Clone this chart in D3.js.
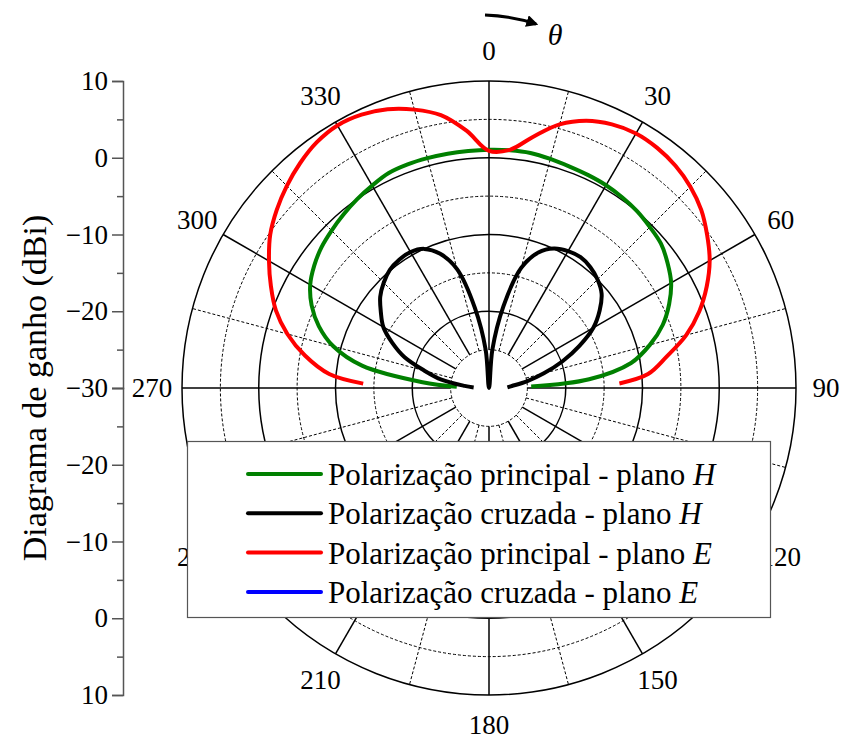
<!DOCTYPE html>
<html>
<head>
<meta charset="utf-8">
<script src="https://cdn.jsdelivr.net/npm/d3@7/dist/d3.min.js"></script>
<style>
  body { margin: 0; background: #fff; }
  svg text { font-family: "Liberation Serif", "Times New Roman", "DejaVu Serif", serif; }
</style>
</head>
<body>
<svg id="chart" width="842" height="740"></svg>
<script>
// angles in degrees, 0 = top, clockwise
const angles = [-88, -85, -80, -75, -70, -65, -60, -55, -50, -45, -40, -35, -30, -25, -20, -15, -10, -5, 0,
                5, 10, 15, 20, 25, 30, 35, 40, 45, 50, 55, 60, 65, 70, 75, 80, 85, 88];

const principalH = [-25.8, -21.3, -13.2, -9.0, -6.4, -4.5, -3.1, -2.2, -1.5, -1.0, -0.5, 0.0, 0.45, 0.9, 1.0, 1.0, 1.0, 1.0, 1.05,
                    1.1, 1.1, 0.9, 0.7, 0.6, 0.5, 0.3, 0.05, -0.35, -0.75, -1.6, -2.6, -4.1, -5.9, -8.3, -11.2, -16.9, -24.5];

const cruzadaH = [-28.0, -26.8, -23.7, -21.3, -18.3, -16.1, -14.1, -12.8, -11.5, -10.6, -9.9, -9.6, -9.55, -10.0, -11.4, -14.0, -19.4, -25.0, -30,
                  -25.0, -19.2, -13.8, -11.2, -9.95, -9.4, -9.2, -9.45, -10.0, -10.85, -12.4, -14.3, -17.0, -19.8, -22.6, -25.0, -27.0, -27.6];

const principalE = [-13.6, -9.1, -5.65, -2.8, -0.45, 1.35, 3.1, 4.8, 6.1, 7.25, 8.27, 9.1, 9.5, 9.3, 8.65, 7.55, 6.1, 3.65, 0.9,
                    1.15, 3.25, 5.55, 7.05, 7.9, 8.3, 8.2, 7.8, 7.1, 6.1, 4.7, 3.2, 1.3, -0.85, -3.4, -6.5, -9.2, -13.0];

const radialTicks = [-30, -25, -20, -15, -10, -5, 0, 5, 10];
const majorTicks = [-30, -20, -10, 0, 10];
const angleTicks = [0, 30, 60, 90, 120, 150, 180, 210, 240, 270, 300, 330];
const legendNames = ["Polarização principal - plano ", "Polarização cruzada - plano ",
                     "Polarização principal - plano ", "Polarização cruzada - plano "];
const legendPlanes = ["H", "H", "E", "E"];
const legendColors = ["#008000", "#000000", "#ff0000", "#0000ff"];

const FONT = '"Liberation Serif", "Times New Roman", "DejaVu Serif", serif';
const svg = d3.select('#chart');
const cx = 489, cy = 388, R = 307;

const r = d3.scaleLinear().domain([-30, 10]).range([0, R]).clamp(true);
const rad = d => d * Math.PI / 180;

const polar = svg.append('g').attr('transform', `translate(${cx},${cy})`);

// grid circles
polar.selectAll('.ring')
  .data(radialTicks.filter(t => t > -30))
  .enter().append('circle')
  .attr('r', d => r(d))
  .attr('fill', 'none')
  .attr('stroke', '#000')
  .attr('stroke-width', d => d % 10 === 0 ? 1.5 : 1)
  .attr('stroke-dasharray', d => d % 10 === 0 ? null : '3,2');

// spokes every 15 deg, solid on multiples of 30
const spokes = d3.range(0, 360, 15);
polar.selectAll('.spoke')
  .data(spokes)
  .enter().append('line')
  .attr('x1', d => r(-25) * Math.sin(rad(d)))
  .attr('y1', d => -r(-25) * Math.cos(rad(d)))
  .attr('x2', d => R * Math.sin(rad(d)))
  .attr('y2', d => -R * Math.cos(rad(d)))
  .attr('stroke', '#000')
  .attr('stroke-width', d => d % 30 === 0 ? 1.5 : 1)
  .attr('stroke-dasharray', d => d % 30 === 0 ? null : '3,2');

// angle labels
polar.selectAll('.alabel')
  .data(angleTicks)
  .enter().append('text')
  .attr('x', d => 337 * Math.sin(rad(d)))
  .attr('y', d => -337 * Math.cos(rad(d)))
  .attr('text-anchor', 'middle')
  .attr('dominant-baseline', 'central')
  .attr('font-family', FONT)
  .attr('font-size', 27)
  .attr('fill', '#000')
  .text(d => d);

// curves
const line = d3.lineRadial()
  .angle(d => rad(d[0]))
  .radius(d => r(d[1]))
  .curve(d3.curveCatmullRom.alpha(0.5));

const series = [
  { values: principalH, color: legendColors[0] },
  { values: cruzadaH, color: legendColors[1] },
  { values: principalE, color: legendColors[2] }
];

polar.selectAll('.curve')
  .data(series)
  .enter().append('path')
  .attr('d', s => line(angles.map((a, i) => [a, s.values[i]])))
  .attr('fill', 'none')
  .attr('stroke', s => s.color)
  .attr('stroke-width', 4)
  .attr('stroke-linejoin', 'round');

// radial axis on the left, mirrored about the centre
const yTop = d3.scaleLinear().domain([-30, 10]).range([cy, cy - R]);
const yBot = d3.scaleLinear().domain([-30, 10]).range([cy, cy + R]);
const axisX = 123;

[yTop, yBot].forEach((sc, k) => {
  const majors = k === 0 ? majorTicks : majorTicks.filter(t => t !== -30);
  const gMajor = svg.append('g')
    .attr('transform', `translate(${axisX},0)`)
    .call(d3.axisLeft(sc).tickValues(majors).tickSize(11).tickPadding(4).tickFormat(d3.format('d')));
  gMajor.select('.domain').attr('stroke', '#555').attr('stroke-width', 1.5);
  gMajor.selectAll('.tick line').attr('stroke', '#555').attr('stroke-width', 1.5);
  gMajor.selectAll('.tick text')
    .attr('font-size', 27)
    .attr('font-family', FONT)
    .attr('fill', '#000');

  const gMinor = svg.append('g')
    .attr('transform', `translate(${axisX},0)`)
    .call(d3.axisLeft(sc).tickValues(radialTicks.filter(t => t % 10 !== 0)).tickSize(6).tickFormat(''));
  gMinor.select('.domain').remove();
  gMinor.selectAll('.tick line').attr('stroke', '#555').attr('stroke-width', 1.5);
});

// axis title
svg.append('text')
  .attr('transform', `translate(34,${cy}) rotate(-90)`)
  .attr('text-anchor', 'middle')
  .attr('dominant-baseline', 'central')
  .attr('font-family', FONT)
  .attr('font-size', 34)
  .text('Diagrama de ganho (dBi)');

// theta arrow
const defs = svg.append('defs');
defs.append('marker')
  .attr('id', 'arrow')
  .attr('viewBox', '0 0 10 10')
  .attr('refX', 8).attr('refY', 5)
  .attr('markerWidth', 4).attr('markerHeight', 4)
  .attr('orient', 'auto')
  .append('path').attr('d', 'M0,0 L10,5 L0,10 Z').attr('fill', '#000');

svg.append('path')
  .attr('d', 'M485,15 Q512,16 536,24')
  .attr('fill', 'none')
  .attr('stroke', '#000')
  .attr('stroke-width', 3)
  .attr('marker-end', 'url(#arrow)');

svg.append('text')
  .attr('x', 555).attr('y', 34)
  .attr('text-anchor', 'middle')
  .attr('dominant-baseline', 'central')
  .attr('font-family', FONT)
  .attr('font-size', 30)
  .attr('font-style', 'italic')
  .text('θ');

// legend
const legend = svg.append('g');
legend.append('rect')
  .attr('x', 187.5).attr('y', 441.5)
  .attr('width', 583).attr('height', 176)
  .attr('fill', '#fff')
  .attr('stroke', '#555')
  .attr('stroke-width', 1.2);

const rows = legend.selectAll('.row')
  .data(legendNames)
  .enter().append('g')
  .attr('transform', (d, i) => `translate(0,${474 + i * 39.3})`);

rows.append('line')
  .attr('x1', 248).attr('x2', 321)
  .attr('stroke', (d, i) => legendColors[i])
  .attr('stroke-width', 4)
  .attr('stroke-linecap', 'round');

const lt = rows.append('text')
  .attr('x', 328)
  .attr('y', 0)
  .attr('dominant-baseline', 'central')
  .attr('font-family', FONT)
  .attr('font-size', 31)
  .attr('fill', '#000');
lt.append('tspan').text(d => d);
lt.append('tspan').attr('font-style', 'italic').text((d, i) => legendPlanes[i]);
</script>
</body>
</html>
